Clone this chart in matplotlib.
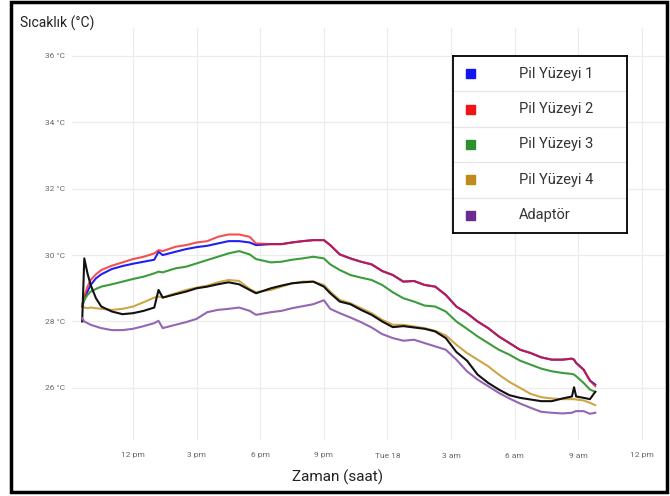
import numpy as np
import matplotlib
matplotlib.use("Agg")
import matplotlib.pyplot as plt
from matplotlib.patches import Rectangle

plt.rcParams["font.family"] = ["Roboto", "DejaVu Sans"]

# Time in hours from Monday 00:00
hours = [9.6, 9.7, 9.85, 10.0, 10.25, 10.5, 11.0, 11.5, 12.0, 12.5, 13.0, 13.2, 13.4,
         14.0, 14.5, 15.0, 15.5, 16.0, 16.5, 17.0, 17.5, 17.8, 18.5, 19.0, 19.5, 20.0,
         20.5, 21.0, 21.3, 21.75, 22.25, 22.75, 23.25, 23.75, 24.25, 24.75, 25.25, 25.75,
         26.25, 26.75, 27.25, 27.75, 28.25, 28.75, 29.25, 29.75, 30.25, 30.75, 31.25,
         31.75, 32.25, 32.7, 32.8, 32.9, 33.25, 33.55, 33.8]

pil_1 = [28.45, 28.65, 28.9, 29.1, 29.3, 29.42, 29.58, 29.67, 29.74, 29.8, 29.86, 30.1, 30.0,
         30.1, 30.18, 30.24, 30.28, 30.35, 30.42, 30.42, 30.38, 30.3, 30.33, 30.33, 30.38, 30.42,
         30.45, 30.45, 30.3, 30.02, 29.9, 29.8, 29.72, 29.52, 29.4, 29.2, 29.22, 29.1,
         29.05, 28.8, 28.45, 28.25, 28.0, 27.8, 27.55, 27.35, 27.15, 27.05, 26.92,
         26.85, 26.85, 26.88, 26.85, 26.75, 26.55, 26.22, 26.1]

pil_2 = [28.5, 28.75, 29.05, 29.25, 29.42, 29.55, 29.68, 29.78, 29.88, 29.95, 30.05, 30.15, 30.12,
         30.25, 30.3, 30.38, 30.42, 30.55, 30.62, 30.62, 30.55, 30.35, 30.33, 30.33, 30.38, 30.42,
         30.45, 30.45, 30.3, 30.02, 29.9, 29.8, 29.72, 29.52, 29.4, 29.2, 29.22, 29.1,
         29.05, 28.8, 28.45, 28.25, 28.0, 27.8, 27.55, 27.35, 27.15, 27.05, 26.92,
         26.85, 26.85, 26.88, 26.85, 26.75, 26.55, 26.22, 26.05]

pil_3 = [28.5, 28.65, 28.8, 28.9, 28.98, 29.05, 29.12, 29.2, 29.28, 29.35, 29.45, 29.5, 29.48,
         29.6, 29.65, 29.75, 29.85, 29.95, 30.05, 30.12, 30.02, 29.88, 29.78, 29.8, 29.86, 29.9,
         29.95, 29.9, 29.72, 29.55, 29.4, 29.32, 29.25, 29.1, 28.88, 28.7, 28.6, 28.48,
         28.45, 28.3, 28.0, 27.78, 27.55, 27.35, 27.15, 27.0, 26.82, 26.7, 26.58,
         26.5, 26.45, 26.42, 26.4, 26.35, 26.15, 25.95, 25.88]

pil_4 = [28.5, 28.42, 28.4, 28.42, 28.4, 28.38, 28.35, 28.38, 28.45, 28.58, 28.72, 28.75, 28.72,
         28.85, 28.95, 29.02, 29.08, 29.18, 29.25, 29.22, 28.98, 28.88, 28.95, 29.05, 29.15, 29.2,
         29.2, 29.1, 28.9, 28.65, 28.55, 28.4, 28.25, 28.05, 27.9, 27.9, 27.85, 27.8,
         27.72, 27.58, 27.3, 27.05, 26.85, 26.65, 26.4, 26.18, 26.0, 25.82, 25.72,
         25.68, 25.66, 25.66, 25.66, 25.65, 25.62, 25.55, 25.48]

adaptor = [28.1, 28.0, 27.95, 27.9, 27.85, 27.8, 27.74, 27.74, 27.78, 27.86, 27.95, 28.02, 27.8,
           27.9, 27.98, 28.08, 28.28, 28.35, 28.38, 28.42, 28.32, 28.2, 28.28, 28.32, 28.4, 28.46,
           28.52, 28.64, 28.38, 28.25, 28.12, 27.98, 27.82, 27.62, 27.5, 27.42, 27.45, 27.35,
           27.25, 27.15, 26.85, 26.5, 26.25, 26.05, 25.85, 25.68, 25.53, 25.4, 25.28,
           25.25, 25.23, 25.25, 25.28, 25.3, 25.3, 25.22, 25.25]

# Reference probe (black trace, not in the legend)
probe = [28.0, 29.9, 29.45, 29.1, 28.7, 28.45, 28.3, 28.22, 28.25, 28.32, 28.42, 28.95, 28.72,
         28.82, 28.9, 29.0, 29.05, 29.12, 29.18, 29.12, 28.95, 28.85, 29.0, 29.08, 29.15, 29.18,
         29.2, 29.05, 28.85, 28.6, 28.52, 28.35, 28.2, 28.0, 27.83, 27.86, 27.82, 27.78,
         27.7, 27.5, 27.08, 26.82, 26.4, 26.15, 25.95, 25.78, 25.7, 25.65, 25.6,
         25.6, 25.68, 25.74, 26.02, 25.74, 25.7, 25.66, 25.88]

series_names = ["Pil Yüzeyi 1", "Pil Yüzeyi 2", "Pil Yüzeyi 3", "Pil Yüzeyi 4", "Adaptör"]
legend_colors = ["#1414f0", "#f01414", "#2e8f2e", "#bf8a1c", "#6b2c91"]

tick_hours = [12, 15, 18, 21, 24, 27, 30, 33, 36]
tick_labels = ["12 pm", "3 pm", "6 pm", "9 pm", "Tue 18", "3 am", "6 am", "9 am", "12 pm"]
y_ticks = [26, 28, 30, 32, 34, 36]

fig = plt.figure(figsize=(6.7, 4.96), dpi=100)
ax = fig.add_axes([72 / 670, 1 - 440 / 496, 593 / 670, 412 / 496])

ax.plot(hours, pil_1, color="#2020f0", lw=1.5)
ax.plot(hours, pil_2, color="#f01818", lw=1.5, alpha=0.75)
ax.plot(hours, pil_3, color="#3c9c3c", lw=1.5)
ax.plot(hours, pil_4, color="#cfa54a", lw=1.5)
ax.plot(hours, probe, color="#111111", lw=1.5)
ax.plot(hours, adaptor, color="#9466b4", lw=1.5)

ax.set_xlim(9.12, 37.09)
ax.set_ylim(24.43, 36.84)
ax.set_xticks(tick_hours)
ax.set_xticklabels(tick_labels)
ax.set_yticks(y_ticks)
ax.set_yticklabels([f"{t} °C" for t in y_ticks])
ax.tick_params(length=0, labelsize=6, labelcolor="#666666")
ax.tick_params(axis="x", pad=9)
ax.tick_params(axis="y", pad=5)
ax.grid(True, color="#ececec", lw=0.9)
ax.set_axisbelow(True)
for spine in ax.spines.values():
    spine.set_visible(False)

fig.text(20 / 670, 1 - 23 / 496, "Sıcaklık (°C)", fontsize=10, va="center", ha="left",
         color="#222222")
fig.text(338 / 670, 1 - 477 / 496, "Zaman (saat)", fontsize=11, va="center", ha="center",
         color="#222222")

# Legend box with separated rows
leg = fig.add_axes([453 / 670, 1 - 233 / 496, 174 / 670, 177 / 496])
leg.set_xlim(0, 174)
leg.set_ylim(177, 0)
leg.set_xticks([])
leg.set_yticks([])
for spine in leg.spines.values():
    spine.set_linewidth(1.3)
    spine.set_color("black")
row_h = 177 / 5
for i, (name, col) in enumerate(zip(series_names, legend_colors)):
    yc = row_h * (i + 0.5)
    leg.add_patch(Rectangle((13, yc - 4.5), 9, 9, color=col))
    leg.text(66, yc, name, fontsize=10.5, va="center", ha="left", color="#333333")
    if i > 0:
        leg.axhline(row_h * i, color="#e6e6e6", lw=0.9)

# Outer frame
fig.patches.append(Rectangle((11 / 670, 4 / 496), 656 / 670, 490 / 496, fill=False,
                             edgecolor="black", lw=2.5, transform=fig.transFigure))

fig.savefig("out.png", dpi=100)
